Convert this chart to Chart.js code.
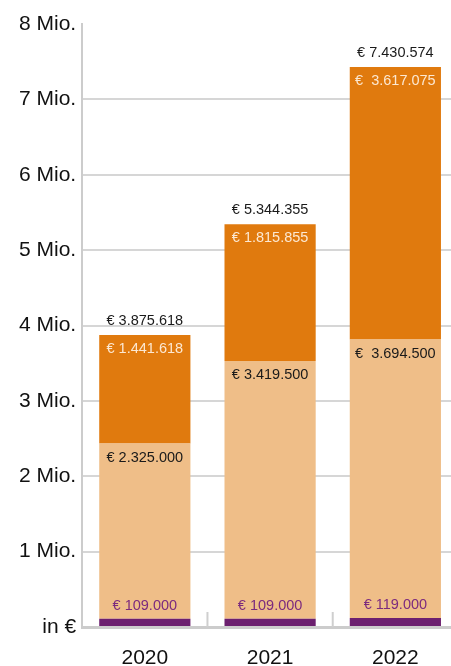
<!DOCTYPE html>
<html>
<head>
<meta charset="utf-8">
<script src="https://cdn.jsdelivr.net/npm/chart.js@4/dist/chart.umd.min.js"></script>
<style>
  html, body { margin: 0; padding: 0; background: #fff; overflow: hidden; }
  #wrap { width: 460px; height: 666px; position: relative; }
</style>
</head>
<body>
<div id="wrap"><canvas id="c" width="460" height="666"></canvas></div>
<script>
const categories = ['2020', '2021', '2022'];
const purpleValues = [109000, 109000, 119000];
const lightValues = [2325000, 3419500, 3694500];
const darkValues = [1441618, 1815855, 3617075];
const totalValues = [3875618, 5344355, 7430574];
const yTicks = [0, 1000000, 2000000, 3000000, 4000000, 5000000, 6000000, 7000000, 8000000];
const yTickLabels = ['in €', '1 Mio.', '2 Mio.', '3 Mio.', '4 Mio.', '5 Mio.', '6 Mio.', '7 Mio.', '8 Mio.'];
const euroPrefix = ['€ ', '€ ', '€  '];

const FONT = '"Liberation Sans", Arial, sans-serif';
const fmt = v => v.toLocaleString('de-DE');

const labelPlugin = {
  id: 'labels',
  afterDatasetsDraw(chart) {
    const ctx = chart.ctx;
    ctx.save();
    ctx.font = '14.5px ' + FONT;
    ctx.textAlign = 'center';
    ctx.textBaseline = 'middle';
    const m0 = chart.getDatasetMeta(0), m1 = chart.getDatasetMeta(1), m2 = chart.getDatasetMeta(2);
    categories.forEach((c, i) => {
      const b0 = m0.data[i], b1 = m1.data[i], b2 = m2.data[i];
      ctx.fillStyle = '#7b2a7e';
      ctx.fillText('€ ' + fmt(purpleValues[i]), b0.x, b0.y - 13);
      ctx.fillStyle = '#1a1a1a';
      ctx.fillText(euroPrefix[i] + fmt(lightValues[i]), b1.x, b1.y + 14);
      ctx.fillStyle = '#fce8d2';
      ctx.fillText(euroPrefix[i] + fmt(darkValues[i]), b2.x, b2.y + 14);
      ctx.fillStyle = '#1a1a1a';
      ctx.fillText('€ ' + fmt(totalValues[i]), b2.x, b2.y - 14);
    });
    ctx.restore();
  },
  afterDraw(chart) {
    const ctx = chart.ctx, xs = chart.scales.x, area = chart.chartArea;
    ctx.save();
    ctx.strokeStyle = '#cfcfcf';
    ctx.lineWidth = 2;
    for (let i = 0; i < categories.length - 1; i++) {
      const x = (xs.getPixelForValue(i) + xs.getPixelForValue(i + 1)) / 2;
      ctx.beginPath();
      ctx.moveTo(x, area.bottom);
      ctx.lineTo(x, area.bottom - 15);
      ctx.stroke();
    }
    ctx.restore();
  }
};

new Chart(document.getElementById('c'), {
  type: 'bar',
  data: {
    labels: categories,
    datasets: [
      { data: purpleValues, backgroundColor: '#6c1f6f' },
      { data: lightValues, backgroundColor: '#efbe88' },
      { data: darkValues, backgroundColor: '#e07a0e' }
    ]
  },
  options: {
    responsive: false,
    animation: false,
    devicePixelRatio: 1,
    layout: { padding: { top: 24, right: 2, left: 13, bottom: -24 } },
    plugins: { legend: { display: false }, tooltip: { enabled: false } },
    datasets: { bar: { categoryPercentage: 1, barPercentage: 0.728 } },
    scales: {
      x: {
        stacked: true,
        offset: true,
        grid: { display: false, drawTicks: false },
        border: { display: true, color: '#cccccc', width: 3 },
        ticks: { color: '#111', font: { family: FONT, size: 21, lineHeight: 1 }, padding: 21 }
      },
      y: {
        stacked: true,
        min: 0, max: 8000000,
        afterBuildTicks: s => { s.ticks = yTicks.map(v => ({ value: v })); },
        grid: {
          drawTicks: false,
          lineWidth: 2,
          color: c => (c.tick && (c.tick.value === 0 || c.tick.value === 8000000)) ? 'rgba(0,0,0,0)' : '#d6d6d6'
        },
        border: { display: true, color: '#cccccc', width: 2 },
        ticks: {
          color: '#111',
          padding: 6,
          font: { family: FONT, size: 21 },
          callback: (v, i) => yTickLabels[yTicks.indexOf(v)]
        }
      }
    }
  },
  plugins: [labelPlugin]
});
</script>
</body>
</html>
